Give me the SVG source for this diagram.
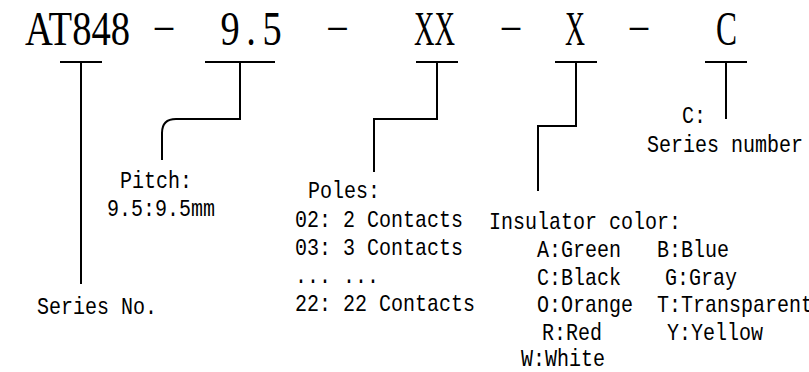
<svg xmlns="http://www.w3.org/2000/svg" width="809" height="372" viewBox="0 0 809 372">
<style>
.t{font-family:"Liberation Mono",monospace;font-size:24px;fill:#000}
.h{font-family:"Liberation Serif",serif;font-size:48px;fill:#000}
.m{text-anchor:middle}
.d{font-family:"Liberation Serif",serif;font-size:30px;fill:#000}
.c{fill:none;stroke:#000;stroke-width:2}
</style>
<rect width="809" height="372" fill="#fff"/>
<g id="title">
<text class="h" x="25" y="45" textLength="105" lengthAdjust="spacingAndGlyphs">AT848</text>
<text class="d" x="152" y="35.5" textLength="24" lengthAdjust="spacingAndGlyphs">-</text>
<text class="h m" transform="scale(0.8,1)" x="287.5 313.75 340" y="45">9.5</text>
<text class="d" x="325.5" y="35.5" textLength="24" lengthAdjust="spacingAndGlyphs">-</text>
<text class="h" x="414" y="45" textLength="41" lengthAdjust="spacingAndGlyphs">XX</text>
<text class="d" x="499" y="35.5" textLength="24" lengthAdjust="spacingAndGlyphs">-</text>
<text class="h" x="565" y="45" textLength="20" lengthAdjust="spacingAndGlyphs">X</text>
<text class="d" x="627" y="35.5" textLength="24" lengthAdjust="spacingAndGlyphs">-</text>
<text class="h" x="716" y="45" textLength="21" lengthAdjust="spacingAndGlyphs">C</text>
</g>
<g id="connectors">
<path class="c" d="M60,62 H102 M81,62 V284"/>
<path class="c" d="M205,62 H275 M240,62 V119 H176 Q162,119 162,133 V160"/>
<path class="c" d="M416,62 H458 M437,62 V119 H374 V172"/>
<path class="c" d="M555,62 H597 M576,62 V126 H538 V191"/>
<path class="c" d="M705,62 H747 M726,62 V119"/>
</g>
<g id="node-series">
<text class="t" x="37" y="314" textLength="120" lengthAdjust="spacingAndGlyphs">Series No.</text>
</g>
<g id="node-pitch">
<text class="t" x="120" y="188" textLength="72" lengthAdjust="spacingAndGlyphs">Pitch:</text>
<text class="t" x="107" y="216" textLength="108" lengthAdjust="spacingAndGlyphs">9.5:9.5mm</text>
</g>
<g id="node-poles">
<text class="t" x="308" y="198" textLength="72" lengthAdjust="spacingAndGlyphs">Poles:</text>
<text class="t" x="295" y="227" textLength="168" lengthAdjust="spacingAndGlyphs">02: 2 Contacts</text>
<text class="t" x="295" y="255" textLength="168" lengthAdjust="spacingAndGlyphs">03: 3 Contacts</text>
<text class="t" x="295" y="283" textLength="84" lengthAdjust="spacingAndGlyphs">... ...</text>
<text class="t" x="295" y="311" textLength="180" lengthAdjust="spacingAndGlyphs">22: 22 Contacts</text>
</g>
<g id="node-color">
<text class="t" x="489" y="229" textLength="192" lengthAdjust="spacingAndGlyphs">Insulator color:</text>
<text class="t" x="537" y="257" textLength="84" lengthAdjust="spacingAndGlyphs">A:Green</text>
<text class="t" x="657" y="257" textLength="72" lengthAdjust="spacingAndGlyphs">B:Blue</text>
<text class="t" x="537" y="285" textLength="84" lengthAdjust="spacingAndGlyphs">C:Black</text>
<text class="t" x="665" y="285" textLength="72" lengthAdjust="spacingAndGlyphs">G:Gray</text>
<text class="t" x="537" y="312" textLength="96" lengthAdjust="spacingAndGlyphs">O:Orange</text>
<text class="t" x="657" y="312" textLength="156" lengthAdjust="spacingAndGlyphs">T:Transparent</text>
<text class="t" x="542" y="340" textLength="60" lengthAdjust="spacingAndGlyphs">R:Red</text>
<text class="t" x="667" y="340" textLength="96" lengthAdjust="spacingAndGlyphs">Y:Yellow</text>
<text class="t" x="521" y="366" textLength="84" lengthAdjust="spacingAndGlyphs">W:White</text>
</g>
<g id="node-c">
<text class="t" x="682" y="123" textLength="24" lengthAdjust="spacingAndGlyphs">C:</text>
<text class="t" x="647" y="152" textLength="156" lengthAdjust="spacingAndGlyphs">Series number</text>
</g>
</svg>
